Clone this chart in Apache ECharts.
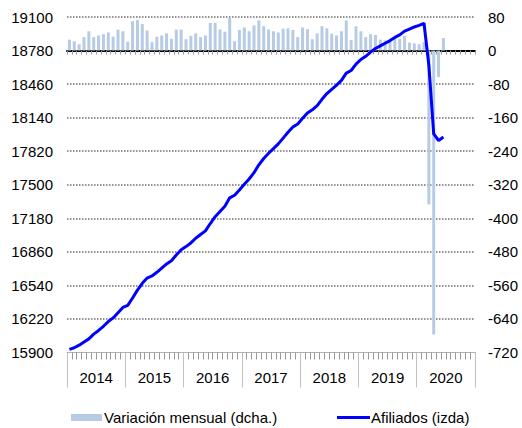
<!DOCTYPE html>
<html>
<head>
<meta charset="utf-8">
<script src="https://cdn.jsdelivr.net/npm/echarts@6/dist/echarts.min.js"></script>
<style>
html,body{margin:0;padding:0;background:#fff;}
#c{width:522px;height:428px;}
</style>
</head>
<body>
<div id="c"></div>
<script>
var years = ['2014','2015','2016','2017','2018','2019','2020'];
var leftTicks = [15900, 19100, 320];
var rightTicks = [-720, 80, 80];

// Variación mensual (miles), Jan 2014 - Jun 2020
var variacion = [
 26,22,15,32,46,32,36,39,43,33,50,46,
 21,70,73,63,48,20,33,36,41,28,50,50,
 27,35,41,32,36,66,66,50,45,78,22,49,
 55,46,60,72,58,50,46,43,52,53,49,32,
 55,51,27,41,58,53,40,36,46,72,25,58,
 46,32,39,37,26,24,23,30,28,35,19,17,
 15,20,-367,-677,-63,30
];
// Afiliados (miles), Jan 2014 - Jun 2020
var afiliados = [
 15930,15945,15970,16000,16030,16075,16110,16150,16195,16230,16280,16330,
 16350,16420,16495,16560,16610,16630,16665,16705,16745,16775,16830,16880,
 16910,16945,16990,17025,17060,17130,17195,17245,17295,17375,17400,17450,
 17505,17555,17615,17690,17750,17800,17845,17890,17945,18000,18050,18080,
 18135,18185,18215,18255,18315,18370,18410,18450,18495,18565,18590,18650,
 18695,18725,18765,18800,18825,18850,18875,18905,18930,18965,18985,19005,
 19020,19040,18640,17985,17922,17955
];

var months = [];
years.forEach(function(y){ for (var m = 1; m <= 12; m++) months.push(y + '-' + (m < 10 ? '0' + m : m)); });

var FONT = "'Liberation Sans', Arial, sans-serif";
var chart = echarts.init(document.getElementById('c'), null, {renderer:'svg'});
chart.setOption({
  animation: false,
  textStyle: {fontFamily: FONT},
  grid: {left: 67, right: 47, top: 17, bottom: 75.5, containLabel: false},
  legend: [
    {data: [{name:'Variación mensual (dcha.)', icon:'rect'}], left: 71, top: 410, padding: 0,
     itemWidth: 31, itemHeight: 7, textStyle: {fontSize: 15, color: '#000', fontFamily: FONT, padding:[0,0,0,-3]}},
    {data: [{name:'Afiliados (izda)', icon:'rect'}], left: 337, top: 410, padding: 0,
     itemWidth: 33, itemHeight: 3, itemStyle:{color:'#0000ff'},
     textStyle: {fontSize: 15, color: '#000', fontFamily: FONT, padding:[0,0,0,-4]}}
  ],
  xAxis: [
    {type:'category', data: months, position:'bottom', boundaryGap: true,
     axisLine:{show:true, onZero:false, lineStyle:{color:'#b0b0b0', width:1}},
     axisTick:{show:true, interval:0, length:7, lineStyle:{color:'#999'}},
     axisLabel:{show:false}, splitLine:{show:false}},
    {type:'category', data: months, position:'bottom', boundaryGap: true,
     axisLine:{show:true, onZero:true, onZeroAxisIndex:1, lineStyle:{color:'#000', width:2}},
     axisTick:{show:true, interval:0, length:4, lineStyle:{color:'#999'}},
     axisLabel:{show:false}, splitLine:{show:false}},
    {type:'category', data: years, position:'bottom', boundaryGap: true,
     axisLine:{show:false, onZero:false},
     axisTick:{show:true, interval:0, length:35, lineStyle:{color:'#c0c0c0'}},
     axisLabel:{show:true, interval:0, fontSize:15, color:'#000', margin:17, fontFamily: FONT},
     splitLine:{show:false}}
  ],
  yAxis: [
    {type:'value', position:'left', min: leftTicks[0], max: leftTicks[1], interval: leftTicks[2],
     axisLine:{show:false}, axisTick:{show:false},
     axisLabel:{fontSize:15, color:'#000', margin:14, fontFamily: FONT, formatter: function(v){ return String(v); }},
     splitLine:{show:true, showMinLine:false, lineStyle:{color:'#6e6e6e', type:[1.5,1.5], width:1.5}}},
    {type:'value', position:'right', min: rightTicks[0], max: rightTicks[1], interval: rightTicks[2],
     axisLine:{show:false}, axisTick:{show:false},
     axisLabel:{fontSize:15, color:'#000', margin:13, fontFamily: FONT, formatter: function(v){ return String(v); }},
     splitLine:{show:false}}
  ],
  series: [
    {name:'Variación mensual (dcha.)', type:'bar', xAxisIndex:0, yAxisIndex:1, data: variacion,
     barWidth: 3, itemStyle:{color:'#b7cbe4'}},
    {name:'Afiliados (izda)', type:'line', xAxisIndex:0, yAxisIndex:0, data: afiliados,
     showSymbol:false, symbol:'none', lineStyle:{color:'#0000ff', width:3}, itemStyle:{color:'#0000ff'}}
  ]
});
</script>
</body>
</html>
